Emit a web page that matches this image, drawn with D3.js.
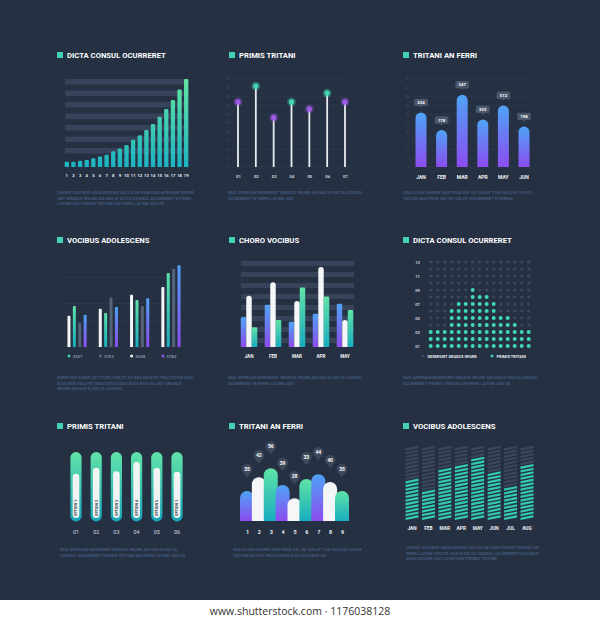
<!DOCTYPE html>
<html>
<head>
<meta charset="utf-8">
<script src="https://cdn.jsdelivr.net/npm/d3@7"></script>
<style>
  body { margin: 0; background: #fff; }
  text { font-family: Roboto, "Open Sans", sans-serif; }
</style>
</head>
<body>
<div id="chart"></div>
<script>
// ---- data ----
const stepCats = ["1","2","3","4","5","6","7","8","9","10","11","12","13","14","15","16","17","18","19"];
const stepValues = [6,6,7,8,10,12,14,18,21,25,31,36,42,49,57,66,76,88,100];

const lolliCats = ["01","02","03","04","05","06","07"];
const lolliValues = [37,46,28,37,33,42,37];
const lolliTicks = [0,5,10,15,20,25,30,35,40,45,50];

const pillMonths = ["JAN","FEB","MAR","APR","MAY","JUN"];
const pillValues = [31,21,41,27,35,23];
const pillLabels = ["234","178","547","223","512","198"];

const groupCats = ["A","B","C","D"];
const legendNames = ["2357","3753","3658","5783"];
const s2357 = [47,39,54,85];
const s3753 = [28,57,47,90];
const s3658 = [36,44,60,69];
const s5783 = [37,46,56,94];

const choroMonths = ["JAN","FEB","MAR","APR","MAY"];
const choroBlue = [33,47,28,37,48];
const choroWhite = [57,72,51,89,30];
const choroGreen = [22,30,66,56,41];

const dotCols = [1,2,3,4,5,6,7,8,9,10,11,12,13,14,15];
const dotRows = [1,2,3,4,5,6,7,8,9,10,11,12,13];
const dotCounts = [3,3,3,6,7,7,9,8,8,7,5,5,4,3,3];
const dotTicks = [13,11,9,7,5,3,1];

const optionCats = ["01","02","03","04","05","06"];
const optionNames = ["OPTION 1","OPTION 2","OPTION 3","OPTION 4","OPTION 5","OPTION 1"];
const optionValues = [67,76,71,85,76,70];

const humpCats = ["1","2","3","4","5","6","7","8","9"];
const humpValues = [50,73,88,60,38,70,78,65,50];
const humpLabels = ["35","42","56","39","28","33","44","40","35"];

const segMonths = ["JAN","FEB","MAR","APR","MAY","JUN","JUL","AUG"];
const segCounts = [11,8,14,15,17,13,9,15];
const segLevels = [0,1,2,3,4,5,6,7,8,9,10,11,12,13,14,15,16,17,18,19];

// ---- colours ----
const BG = "#253042";
const TEAL = "#43d3b4";
const BAND = "#37435a";
const GRID = "#313d50";
const DESC = "#41597c";

const svg = d3.select("#chart").append("svg")
    .attr("width", 600)
    .attr("height", 620);

svg.append("rect").attr("width", 600).attr("height", 600).attr("fill", BG);

// gradients
const defs = svg.append("defs");
function vGrad(id, top, bottom, user) {
    const g = defs.append("linearGradient").attr("id", id)
        .attr("x1", 0).attr("y1", user ? user[0] : 0).attr("x2", 0).attr("y2", user ? user[1] : 1);
    if (user) g.attr("gradientUnits", "userSpaceOnUse");
    g.append("stop").attr("offset", "0%").attr("stop-color", top);
    g.append("stop").attr("offset", "100%").attr("stop-color", bottom);
}
vGrad("gStep", "#63e6a0", "#1cb3c2", [79, 167]);
vGrad("gGreen", "#5fe3a6", "#19adbf");
vGrad("gBlue", "#4ea3f6", "#8c4cf0");
vGrad("gPill", "#62e4a8", "#17a4ba");

// rounded-top bar path
function topRound(x, y, w, h, r) {
    r = Math.max(0, Math.min(r, w / 2, h));
    return `M${x},${y + h}V${y + r}A${r},${r} 0 0 1 ${x + r},${y}H${x + w - r}A${r},${r} 0 0 1 ${x + w},${y + r}V${y + h}Z`;
}

function title(x, y, label) {
    svg.append("rect").attr("x", x).attr("y", y - 5.5).attr("width", 6).attr("height", 6).attr("fill", TEAL);
    svg.append("text").attr("x", x + 10).attr("y", y + 0.3)
        .attr("fill", "#fff").style("font-size", "7.7px").style("font-weight", 700)
        .text(label);
}

function desc(x, y, lines) {
    svg.append("g").selectAll("text").data(lines).enter().append("text")
        .attr("x", x).attr("y", (d, i) => y + i * 5.6)
        .attr("fill", DESC).style("font-size", "4.3px").style("font-weight", 700)
        .text(d => d);
}

function xLabels(scale, yCenter, fs, color, weight) {
    const g = svg.append("g")
        .attr("transform", `translate(0,${yCenter - fs * 0.35})`)
        .call(d3.axisBottom(scale).tickSize(0).tickPadding(0));
    g.select(".domain").remove();
    g.selectAll("text").attr("fill", color)
        .style("font-size", fs + "px").style("font-weight", weight)
        .style("font-family", "Roboto, sans-serif");
    return g;
}

function yLabels(scale, x, ticks, fmt, fs, color, weight) {
    const g = svg.append("g")
        .attr("transform", `translate(${x},0)`)
        .call(d3.axisLeft(scale).tickValues(ticks).tickFormat(fmt).tickSize(0).tickPadding(0));
    g.select(".domain").remove();
    g.selectAll("text").attr("fill", color)
        .style("font-size", fs + "px").style("font-weight", weight)
        .style("font-family", "Roboto, sans-serif");
}

// =========== Panel 1: rising bars ===========
title(57, 57.5, "DICTA CONSUL OCURRERET");
{
    const x = d3.scaleBand().domain(stepCats).range([64, 189]).paddingInner(0.35).paddingOuter(0.1);
    const y = d3.scaleLinear().domain([0, 100]).range([167, 79]);
    // background bands
    const bands = [0,1,2,3,4,5,6];
    svg.append("g").selectAll("rect").data(bands).enter().append("rect")
        .attr("x", 65).attr("width", 120)
        .attr("y", d => 79 + d * 11.5).attr("height", 5.5)
        .attr("fill", BAND);
    svg.append("g").selectAll("path").data(stepValues).enter().append("path")
        .attr("d", (d, i) => topRound(x(stepCats[i]), y(d), x.bandwidth(), y(0) - y(d), 1.2))
        .attr("fill", "url(#gStep)");
    xLabels(x, 175, 4.2, "#e8edf2", 700);
}
desc(57, 194, [
    "CHORO VOCIBUS ADOLESCENS QUI CU NE EUM DUO APERIAM DESER",
    "UNT GRAECE IRIURE AN HAS EI DICTA CONSUL OCURRERET N FERRI",
    "LATINE USU PRIMIS TRITANI AN FERRI LATINE USU EX"
]);

// =========== Panel 2: lollipops ===========
title(229, 57.5, "PRIMIS TRITANI");
{
    const x = d3.scalePoint().domain(lolliCats).range([238, 345]);
    const y = d3.scaleLinear().domain([0, 50]).range([167, 79]);
    svg.append("g").selectAll("line").data(lolliTicks).enter().append("line")
        .attr("x1", 231).attr("x2", 349)
        .attr("y1", d => y(d)).attr("y2", d => y(d))
        .attr("stroke", GRID).attr("stroke-width", 0.6);
    yLabels(y, 229, lolliTicks, d => d, 2.6, "#46556b", 400);
    svg.append("g").selectAll("line").data(lolliValues).enter().append("line")
        .attr("x1", (d, i) => x(lolliCats[i])).attr("x2", (d, i) => x(lolliCats[i]))
        .attr("y1", y(0)).attr("y2", d => y(d))
        .attr("stroke", "#e9edf1").attr("stroke-width", 1.8);
    const dotColor = i => i % 2 ? "#43d6b0" : "#a05ae8";
    svg.append("g").selectAll("circle").data(lolliValues).enter().append("circle")
        .attr("cx", (d, i) => x(lolliCats[i])).attr("cy", d => y(d)).attr("r", 4.4)
        .attr("fill", (d, i) => dotColor(i)).attr("opacity", 0.35);
    svg.append("g").selectAll("circle").data(lolliValues).enter().append("circle")
        .attr("cx", (d, i) => x(lolliCats[i])).attr("cy", d => y(d)).attr("r", 2.6)
        .attr("fill", (d, i) => dotColor(i));
    xLabels(x, 176, 4.2, "#cfd6df", 700);
}
desc(228, 194, [
    "DUO APERIAM DESERUNT GRAECE IRIURE AN HAS EI DICTA CONSUL",
    "OCURRERET N FERRI LATINE USU"
]);

// =========== Panel 3: pill bars with callouts ===========
title(403, 57.5, "TRITANI AN FERRI");
{
    const x = d3.scaleBand().domain(pillMonths).range([410.7, 534.3]);
    const y = d3.scaleLinear().domain([0, 50]).range([167, 79]);
    svg.append("g").selectAll("line").data(lolliTicks).enter().append("line")
        .attr("x1", 412).attr("x2", 531)
        .attr("y1", d => y(d)).attr("y2", d => y(d))
        .attr("stroke", GRID).attr("stroke-width", 0.6);
    yLabels(y, 409, lolliTicks, d => d, 2.6, "#46556b", 400);
    const bw = 11;
    const cx = m => x(m) + x.bandwidth() / 2;
    svg.append("g").selectAll("path").data(pillValues).enter().append("path")
        .attr("d", (d, i) => topRound(cx(pillMonths[i]) - bw / 2, y(d), bw, y(0) - y(d), bw / 2))
        .attr("fill", "url(#gBlue)");
    const tags = svg.append("g").selectAll("g").data(pillValues).enter().append("g")
        .attr("transform", (d, i) => `translate(${cx(pillMonths[i])},${y(d) - 10})`);
    tags.append("rect").attr("x", -6.8).attr("y", -3.8).attr("width", 13.6).attr("height", 7.4)
        .attr("rx", 1.5).attr("fill", "#4a5669");
    tags.append("path").attr("d", "M-1.6,3.5L0,5.2L1.6,3.5Z").attr("fill", "#4a5669");
    tags.append("text").attr("text-anchor", "middle").attr("y", 1.5)
        .attr("fill", "#fff").style("font-size", "4.3px").style("font-weight", 700)
        .text((d, i) => pillLabels[i]);
    xLabels(x, 177, 5, "#f0f3f6", 700);
}
desc(403, 194, [
    "SEA ILLUM LEGERE NOSTRUD VEL EX VOLUP TUA FACILISI VIS EX",
    "TATION NOSTRUD VEL EX VOLUP OCURRERET N FERRIA"
]);

// =========== Panel 4: grouped thin bars ===========
title(57, 242.5, "VOCIBUS ADOLESCENS");
{
    const x0 = d3.scaleBand().domain(groupCats).range([61.4, 186.6]);
    const order = ["3658", "2357", "3753", "5783"];
    const x1 = d3.scaleBand().domain(order).range([-10.8, 10.8]);
    const y = d3.scaleLinear().domain([0, 100]).range([347, 260]);
    const seriesData = { "2357": s2357, "3753": s3753, "3658": s3658, "5783": s5783 };
    const fills = { "3658": "#f3f5f7", "2357": "url(#gGreen)", "3753": "#55637a", "5783": "url(#gBlue)" };
    const legendDots = { "2357": "#3fd3b0", "3753": "#5d6b80", "3658": "#f3f5f7", "5783": "#8a5cf0" };
    svg.append("g").selectAll("line").data(d3.range(0, 101, 10)).enter().append("line")
        .attr("x1", 64).attr("x2", 184)
        .attr("y1", d => y(d)).attr("y2", d => y(d))
        .attr("stroke", GRID).attr("stroke-width", 0.6);
    const bw = 3;
    order.forEach(s => {
        svg.append("g").selectAll("path").data(seriesData[s]).enter().append("path")
            .attr("d", (d, i) => {
                const c = x0(groupCats[i]) + x0.bandwidth() / 2 + x1(s) + x1.bandwidth() / 2;
                return topRound(c - bw / 2, y(d), bw, y(0) - y(d), 1);
            })
            .attr("fill", fills[s]);
    });
    const leg = svg.append("g").selectAll("g").data(legendNames).enter().append("g")
        .attr("transform", (d, i) => `translate(${x0(groupCats[i]) + x0.bandwidth() / 2 - 8},356)`);
    leg.append("circle").attr("r", 1.5).attr("fill", d => legendDots[d]);
    leg.append("text").attr("x", 3.6).attr("y", 1.5)
        .attr("fill", "#8794a8").style("font-size", "4.3px").style("font-weight", 700)
        .text(d => d);
}
desc(57, 379, [
    "EURIPIDIS COMPLECTITUR CUM ET AT SEA FACETE TRACTATOS DUO",
    "DUIS WISI FACETE TRACTATOS DUO DUIS WISI EA UNT GRAECE",
    "IRIURE AN HAS EI DICTA CONSUL"
]);

// =========== Panel 5: triple bars over bands ===========
title(229, 242.5, "CHORO VOCIBUS");
{
    const x0 = d3.scaleBand().domain(choroMonths).range([237, 357]);
    const x1 = d3.scaleBand().domain(["b", "w", "g"]).range([-8.25, 8.25]);
    const y = d3.scaleLinear().domain([0, 100]).range([347, 257]);
    svg.append("g").selectAll("rect").data([0,1,2,3,4,5,6,7]).enter().append("rect")
        .attr("x", 241).attr("width", 113)
        .attr("y", d => 261 + d * 11).attr("height", 5)
        .attr("fill", BAND);
    const sets = [["b", choroBlue, "url(#gBlue)", 1.2], ["w", choroWhite, "#f5f6f8", 2.75], ["g", choroGreen, "url(#gGreen)", 1.2]];
    sets.forEach(([k, vals, fill, r]) => {
        svg.append("g").selectAll("path").data(vals).enter().append("path")
            .attr("d", (d, i) => topRound(x0(choroMonths[i]) + x0.bandwidth() / 2 + x1(k), y(d), x1.bandwidth(), y(0) - y(d), r))
            .attr("fill", fill);
    });
    xLabels(x0, 356, 4.6, "#f0f3f6", 700);
}
desc(228, 379, [
    "DUO APERIAM DESERUNT GRAECE IRIURE AN HAS EI DICTA CONSUL",
    "OCURRERET N FERRI LATINE USU"
]);

// =========== Panel 6: dot matrix ===========
title(403, 242.5, "DICTA CONSUL OCURRERET");
{
    const x = d3.scalePoint().domain(dotCols).range([430.7, 528.7]);
    const y = d3.scaleLinear().domain([1, 13]).range([346, 262]);
    const cells = [];
    dotCols.forEach((c, i) => dotRows.forEach(r => cells.push({ c, r, on: r <= dotCounts[i] })));
    svg.append("g").selectAll("circle").data(cells).enter().append("circle")
        .attr("cx", d => x(d.c)).attr("cy", d => y(d.r))
        .attr("r", d => d.on ? 2 : 1.6)
        .attr("fill", d => d.on ? "#42d7b5" : "#3c485b");
    yLabels(y, 420, dotTicks, d3.format("02d"), 4.2, "#c5cdd8", 700);
    const leg = [["DESERUNT GRAECE IRIURE", "#3e4a5d", 423], ["PRIMIS TRITANI", "#42d7b5", 492]];
    leg.forEach(([t, c, lx]) => {
        svg.append("circle").attr("cx", lx).attr("cy", 356).attr("r", 1.5).attr("fill", c);
        svg.append("text").attr("x", lx + 4.5).attr("y", 357.5)
            .attr("fill", "#e6ebf0").style("font-size", "4px").style("font-weight", 700).text(t);
    });
}
desc(403, 379, [
    "DUO APERIAM DESERUNT GRAECE IRIURE AN HAS EI DICTA CONSUL",
    "OCURRERET PRIMIS TRITANI AN FERRI LATINE USU EX"
]);

// =========== Panel 7: option pills ===========
title(57, 428.5, "PRIMIS TRITANI");
{
    const x = d3.scaleBand().domain(optionCats).range([65.9, 187.1]);
    const y = d3.scaleLinear().domain([0, 100]).range([518, 452]);
    const cx = c => x(c) + x.bandwidth() / 2;
    svg.append("g").selectAll("rect").data(optionCats).enter().append("rect")
        .attr("x", d => cx(d) - 5.6).attr("y", 452).attr("width", 11.2).attr("height", 69.5)
        .attr("rx", 5.6).attr("fill", "url(#gPill)");
    svg.append("g").selectAll("rect").data(optionValues).enter().append("rect")
        .attr("x", (d, i) => cx(optionCats[i]) - 3.3).attr("y", d => y(d))
        .attr("width", 6.6).attr("height", d => y(0) - y(d))
        .attr("rx", 3.3).attr("fill", "#f2f4f3");
    svg.append("g").selectAll("text").data(optionNames).enter().append("text")
        .attr("transform", (d, i) => `translate(${cx(optionCats[i]) + 1.4},516) rotate(-90)`)
        .attr("fill", "#1f2a38").style("font-size", "3.6px").style("font-weight", 700)
        .text(d => d);
    xLabels(x, 532, 5.4, "#d5dce4", 400);
}
desc(60, 551, [
    "DUO APERIAM DESERUNT GRAECE IRIURE AN HAS EI DICTA",
    "CONSUL OCURRERET PRIMIS TRITANI AN FERRI LATINE USU EX"
]);

// =========== Panel 8: overlapping humps with pins ===========
title(229, 428.5, "TRITANI AN FERRI");
{
    const x = d3.scalePoint().domain(humpCats).range([247, 342]);
    const y = d3.scaleLinear().domain([0, 100]).range([521, 461]);
    const fills = ["url(#gBlue)", "#f5f6f8", "url(#gGreen)"];
    const bw = 14;
    svg.append("g").selectAll("path").data(humpValues).enter().append("path")
        .attr("d", (d, i) => topRound(x(humpCats[i]) - bw / 2, y(d), bw, y(0) - y(d), bw / 2))
        .attr("fill", (d, i) => fills[i % 3]);
    const pins = svg.append("g").selectAll("g").data(humpValues).enter().append("g")
        .attr("transform", (d, i) => `translate(${x(humpCats[i])},${y(d) - 22})`);
    pins.append("path").attr("d", "M-3.8,3.6L0,8.2L3.8,3.6Z").attr("fill", "#3d495b");
    pins.append("circle").attr("r", 5.3).attr("fill", "#3d495b");
    pins.append("text").attr("text-anchor", "middle").attr("y", 1.8)
        .attr("fill", "#fff").style("font-size", "5px").style("font-weight", 700)
        .text((d, i) => humpLabels[i]);
    xLabels(x, 532, 5.4, "#eef2f5", 700);
}
desc(233, 551, [
    "SEA ILLUM LEGERE NOSTRUD VEL EX VOLUP TUA FACILISI VIS EX",
    "TATION FACETE TRACTATOS DUO DUIS WISI EA"
]);

// =========== Panel 9: slanted segment stacks ===========
title(403, 428.5, "VOCIBUS ADOLESCENS");
{
    const x = d3.scaleBand().domain(segMonths).range([403.8, 535.2]);
    const y = d3.scaleLinear().domain([0, 20]).range([520, 447]);
    const cells = [];
    segMonths.forEach((m, i) => segLevels.forEach(l => cells.push({ m, l, on: l < segCounts[i] })));
    const w = 13, rise = 2.6, th = 2.3;
    svg.append("g").selectAll("path").data(cells).enter().append("path")
        .attr("d", d => {
            const c = x(d.m) + x.bandwidth() / 2, b = y(d.l);
            return `M${c - w / 2},${b}L${c + w / 2},${b - rise}L${c + w / 2},${b - rise - th}L${c - w / 2},${b - th}Z`;
        })
        .attr("fill", d => d.on ? "#33c9ac" : "#3a4759");
    xLabels(x, 528, 4.8, "#eef2f5", 700);
}
desc(406, 549, [
    "CHORO VOCIBUS ADOLESCENS QUI CU NE EUM PRIMIS TRITANI AN",
    "FERRI LATINE USU EX HAS EI DICTA CONSUL OCURRERET VOCIBUS",
    "ADOLESCENS QUI CU NE EUM PRIMIS TRITANI"
]);

// footer strip
svg.append("text").attr("x", 300).attr("y", 614.5).attr("text-anchor", "middle")
    .attr("fill", "#333").style("font-size", "10.5px")
    .style("font-family", "'Open Sans', sans-serif")
    .text("www.shutterstock.com · 1176038128");
</script>
</body>
</html>
